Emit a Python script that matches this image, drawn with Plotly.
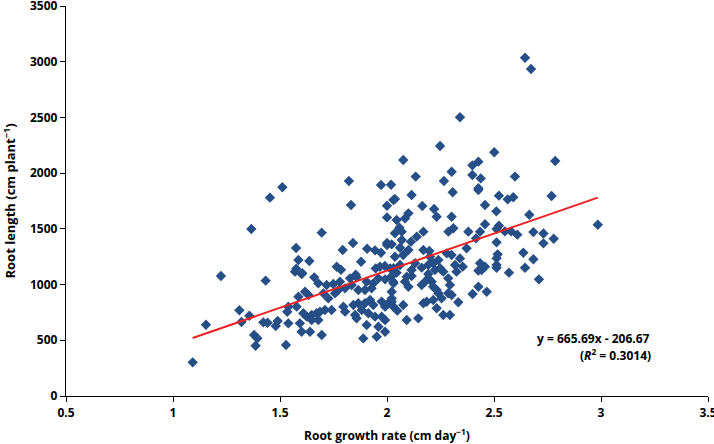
import plotly.graph_objects as go

# Root growth rate (cm day^-1)
growth_rate = [
    1.092, 1.154, 1.224, 1.31, 1.32, 1.357, 1.366, 1.379, 1.386, 1.394, 1.422, 1.433, 1.442, 1.453, 1.48, 1.489, 1.511, 1.528, 1.534, 1.539, 1.539,
    1.575, 1.586, 1.576, 1.637, 1.604, 1.695, 1.765, 1.785, 1.793, 1.832, 1.822, 1.841, 1.854, 1.879, 1.907, 1.944, 1.972, 1.947, 1.967, 1.99, 2.015,
    1.972, 2.019, 2.0, 2.0, 2.0, 2.0, 2.03,
    2.341, 2.248, 2.076, 2.501, 2.399, 2.427, 2.302, 2.134, 2.266, 2.399, 2.438, 2.427,
    2.645, 2.673, 2.786,
    2.598, 2.523, 2.564, 2.59, 2.769, 2.511, 2.665, 2.985, 2.523, 2.512, 2.551, 2.58, 2.609, 2.684, 2.731, 2.779, 2.731, 2.512, 2.517, 2.512, 2.637,
    2.684, 2.512, 2.645, 2.57, 2.71,
    1.57, 1.601, 1.66, 1.679, 1.718, 1.749, 1.78, 1.827, 1.858, 1.905, 1.936, 1.96, 1.991, 2.019, 2.03,
    1.578, 1.586, 1.617, 1.633, 1.609, 1.625, 1.648, 1.671, 1.687, 1.71, 1.741, 1.679, 1.648, 1.593, 1.601, 1.64, 1.695,
    1.796, 1.804, 1.843, 1.866, 1.851, 1.858, 1.882, 1.897, 1.921, 1.936, 1.913, 1.944, 1.975, 1.991, 2.006, 2.022, 1.975, 1.991,
    1.905, 1.96, 1.991, 1.952, 1.889, 1.866, 1.897, 1.928, 1.835, 1.804, 1.773, 1.757, 1.726, 1.703,
    2.115, 2.037, 2.307, 2.427, 2.165, 2.22, 2.458, 2.1, 2.084, 2.232, 2.302, 2.045, 2.058, 2.069, 2.458, 2.17, 2.139, 2.31, 2.287, 2.38,
    2.435, 2.416, 2.037, 2.022, 2.069, 2.112, 2.061, 2.1, 2.17, 2.198, 2.372, 2.037, 2.076, 2.201, 2.24, 2.279, 2.302, 2.341, 2.318, 2.354,
    2.435, 2.458, 2.442, 2.512, 2.131, 2.162, 2.115, 2.193, 2.216, 2.224, 2.248, 2.263, 2.061, 2.03,
    2.045, 2.092, 2.115, 2.084, 2.1, 2.193, 2.193, 2.209, 2.216, 2.162, 2.178, 2.232, 2.24, 2.286, 2.294, 2.302, 2.286, 2.325, 2.255, 2.333,
    2.4, 2.427, 2.466, 2.427, 2.029, 2.022, 2.022, 2.027, 2.076, 2.048, 2.17, 2.185, 2.216, 2.232, 2.263, 2.294, 2.092, 2.146,
]

# Root length (cm plant^-1)
root_length = [
    302, 640, 1077, 769, 664, 720, 1499, 547, 451, 518, 661, 1035, 658, 1780, 628, 673, 1873, 458, 756, 801, 652,
    1328, 1220, 1143, 1211, 1101, 1466, 1160, 1133, 1310, 1714, 1929, 1373, 1089, 1205, 1322, 1307, 1286, 1145, 1160, 1167, 1145,
    1893, 1896, 1707, 1603, 1373, 1355, 1759,
    2501, 2243, 2118, 2187, 2070, 2103, 2013, 1969, 1929, 1983, 1953, 1864,
    3036, 2934, 2109,
    1969, 1798, 1765, 1783, 1795, 1657, 1627, 1537, 1528, 1499, 1477, 1477, 1448, 1471, 1459, 1411, 1370, 1379, 1271, 1236, 1286,
    1227, 1151, 1151, 1107, 1047,
    1116, 1095, 1065, 1011, 996, 1005, 1026, 1056, 1065, 1026, 1011, 1056, 1047, 1071, 1011,
    802, 891, 936, 906, 742, 712, 727, 742, 757, 772, 772, 682, 682, 652, 577, 577, 547,
    802, 757, 817, 832, 727, 697, 772, 832, 861, 817, 742, 712, 847, 802, 832, 876, 712, 682,
    637, 622, 577, 532, 517, 951, 951, 966, 996, 966, 951, 921, 876, 921,
    1804, 1768, 1828, 1849, 1705, 1678, 1714, 1639, 1594, 1609, 1609, 1579, 1511, 1475, 1541, 1475, 1430, 1505, 1475, 1475,
    1475, 1415, 1460, 1361, 1400, 1385, 1331, 1310, 1310, 1301, 1325, 1250, 1265, 1250, 1220, 1280, 1265, 1235, 1176, 1161,
    1191, 1161, 1131, 1176, 1191, 1152, 1131, 1176, 1191, 1131, 1146, 1116, 1176, 1146,
    1107, 1071, 1077, 1026, 981, 1095, 1056, 1026, 981, 996, 1026, 951, 922, 1056, 996, 906, 922, 1116, 877, 841,
    915, 981, 936, 1125, 1026, 936, 846, 808, 817, 766, 832, 846, 861, 787, 727, 727, 682, 697,
]

slope = 665.69
intercept = -206.67
r_squared = 0.3014
fit_x = [min(growth_rate), max(growth_rate)]
fit_y = [slope * v + intercept for v in fit_x]

font_family = "'Open Sans', Lato, sans-serif"

fig = go.Figure()
fig.add_trace(go.Scatter(
    x=growth_rate, y=root_length, mode="markers",
    marker=dict(symbol="diamond", size=8, color="#254f86", line=dict(width=0)),
    showlegend=False, hoverinfo="x+y"))
fig.add_trace(go.Scatter(
    x=fit_x, y=fit_y, mode="lines",
    line=dict(color="#ee2222", width=2), showlegend=False, hoverinfo="skip"))

fig.add_annotation(x=2.963, y=515, xref="x", yref="y",
                   text=f"<b>y = {slope}x - {abs(intercept)}</b>",
                   showarrow=False, font=dict(family=font_family, size=12, color="black"))
fig.add_annotation(x=3.07, y=368, xref="x", yref="y",
                   text=f"<b>(<i>R</i><sup>2</sup> = {r_squared})</b>",
                   showarrow=False, font=dict(family=font_family, size=12, color="black"))

axis_common = dict(showgrid=False, zeroline=False, showline=True, linecolor="black", linewidth=1.3,
                   ticks="outside", ticklen=5, tickcolor="black", tickwidth=1.3,
                   automargin=False, ticklabeloverflow="allow",
                   tickfont=dict(family=font_family, size=12, color="black", weight="bold"))

fig.update_xaxes(range=[0.5, 3.5], dtick=0.5, tick0=0.5,
                 title=dict(text="Root growth rate (cm day<sup>−1</sup>)",
                            font=dict(family=font_family, size=12, color="black", weight="bold")),
                 **axis_common)
fig.update_yaxes(range=[0, 3500], dtick=500, tick0=0,
                 title=dict(text="Root length (cm plant<sup>−1</sup>)",
                            font=dict(family=font_family, size=13, color="black", weight="bold")),
                 **axis_common)

fig.update_layout(width=714, height=444, margin=dict(l=66, r=6, t=6, b=48),
                  plot_bgcolor="white", paper_bgcolor="white")

fig.write_html("out.html", config={"displayModeBar": False},
               post_script="document.body.style.margin='0';document.body.style.overflow='hidden';")
